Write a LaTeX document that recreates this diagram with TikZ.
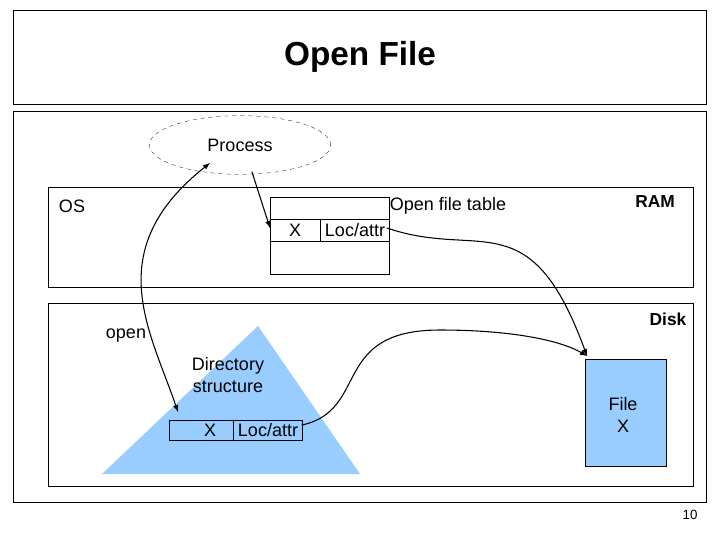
\documentclass[tikz,border=0pt]{standalone}
\usepackage{fontspec}
\setmainfont{Liberation Sans}
\usetikzlibrary{shapes.geometric}
\definecolor{dirblue}{RGB}{153,204,255}
\tikzset{
	lbl/.style={font=\fontsize{13.5}{16}\selectfont, inner sep=0pt},
	hdr/.style={font=\fontsize{13}{15}\selectfont\bfseries, inner sep=0pt},
	arr/.style={-latex, thick},
}
\begin{document}
\begin{tikzpicture}[x=0.75pt,y=-0.75pt,line cap=round]
	\useasboundingbox (0,0) rectangle (720,540);
	% frames
	\draw (13,10) rectangle (706,104);
	\node (title) at (360,57) {\fontsize{25}{30}\selectfont\bfseries Open File};
	\draw (13,111) rectangle (706,502);
	\draw (48,187) rectangle (693,287);
	\draw (48,303) rectangle (693,486);
	\node[lbl] (os) at (72,206) {OS};
	\node[hdr] (ram) at (655,202) {RAM};
	\node[hdr] (disk) at (668,319) {Disk};
	% process
	\node[draw, dashed, very thin, ellipse, minimum width=136, minimum height=44] (proc) at (240,145) {};
	\node[lbl] at (240,145) {Process};
	% open file table
	\draw (270,197) rectangle (389,274);
	\draw (270,219) -- (389,219);
	\draw (270,241) -- (389,241);
	\draw (320,219) -- (320,241);
	\node[lbl] (tx) at (295,230) {X};
	\node[lbl] (tloc) at (355,230) {Loc/attr};
	\node[lbl] (tname) at (448,206) {Open file table};
	% directory
	\fill[dirblue] (258,326) -- (360,474) -- (102,474) -- cycle;
	\node[lbl, align=center] (dir) at (228,375) {Directory\\structure};
	\draw (169,420) rectangle (302,440);
	\draw (233,420) -- (233,440);
	\node[lbl] (dx) at (210,430) {X};
	\node[lbl] (dloc) at (268,430) {Loc/attr};
	\node[lbl] (open) at (126,336) {open};
	% file
	\node[draw, fill=dirblue, minimum width=61, minimum height=80, inner sep=0pt] (file) at (625.5,413) {};
	\node[lbl, align=center] at (623,415) {File\\X};
	% connectors
	\coordinate (pa) at (210,163);
	\coordinate (pb) at (252,172);
	\coordinate (ta) at (270,228);
	\coordinate (da) at (178,412);
	\coordinate (tr) at (387,228);
	\coordinate (dr) at (302,425);
	\coordinate (fa) at (587,356);
	\draw[arr] (pb) -- (ta);
	\draw[latex-latex, thick] (pa) .. controls (100,250) and (150,330) .. (da);
	\draw[arr] (tr) .. controls (480,260) and (530,200) .. (fa);
	\draw[arr] (dr) .. controls (370,410) and (330,330) .. (440,330)
		.. controls (510,330) and (560,340) .. (fa);
	\node[font=\fontsize{10}{12}\selectfont] (page) at (690,515) {10};
\end{tikzpicture}
\end{document}
